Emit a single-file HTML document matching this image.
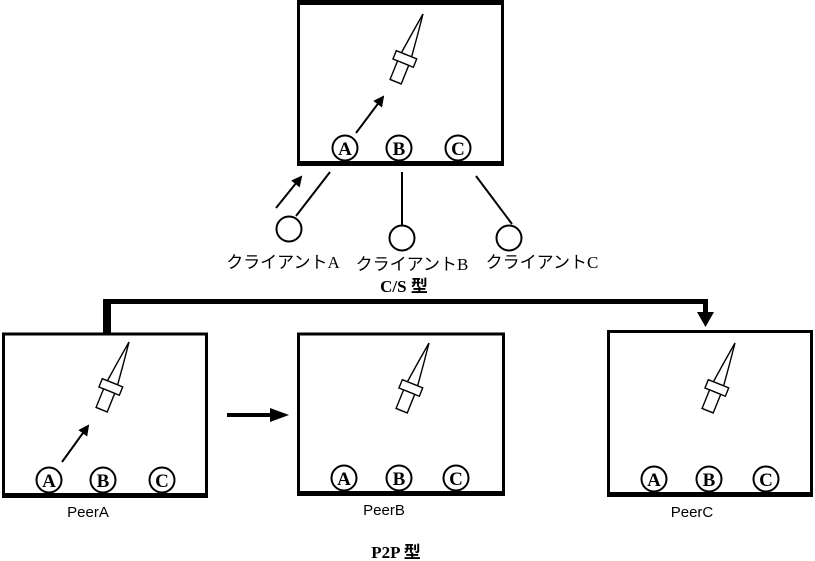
<!DOCTYPE html>
<html><head><meta charset="utf-8"><style>
html,body{margin:0;padding:0;background:#fff;}
svg{display:block;}
text{font-family:"Liberation Serif","Noto Serif CJK SC",serif;fill:#000;}
.jp{font-family:"Liberation Serif","Noto Sans CJK JP",serif;font-size:17px;}
.pe{font-family:"Liberation Sans",sans-serif;font-size:15px;}
</style></head><body>
<svg width="815" height="561" viewBox="0 0 815 561" xmlns="http://www.w3.org/2000/svg">
<defs>
<g id="knife" fill="#fff" stroke="#000" stroke-width="1.4">
<path d="M0 0 Q-3 22 -5.5 44 L5.5 44 Q3 22 0 0 Z"/>
<rect x="-11" y="44" width="22" height="9"/>
<rect x="-6" y="53" width="12" height="20"/>
</g>
<marker id="ah" markerWidth="11" markerHeight="11" refX="9" refY="5.5" orient="auto" markerUnits="userSpaceOnUse">
<path d="M0 0 L11 5.5 L0 11 Z" fill="#000"/></marker>
</defs>

<rect x="298.5" y="2" width="204" height="162" fill="#fff" stroke="#000" stroke-width="3"/>
<rect x="297" y="0" width="207" height="5"/>
<rect x="297" y="161" width="207" height="5"/>
<use href="#knife" transform="translate(423,14) rotate(22)"/>
<line x1="356" y1="133" x2="383" y2="97" stroke="#000" stroke-width="2" marker-end="url(#ah)"/>
<g stroke="#000" stroke-width="2" fill="#fff">
<circle cx="345" cy="148" r="12.5"/><circle cx="399" cy="148" r="12.5"/><circle cx="458" cy="148" r="12.5"/>
</g>
<g text-anchor="middle" font-size="19" font-weight="bold">
<text x="345" y="155">A</text><text x="399" y="155">B</text><text x="458" y="155">C</text>
</g>

<g stroke="#000" stroke-width="2" fill="#fff">
<line x1="330" y1="172" x2="296" y2="216"/>
<line x1="402" y1="172" x2="402" y2="226"/>
<line x1="476" y1="176" x2="512" y2="224"/>
<circle cx="289" cy="229" r="12.5"/>
<circle cx="402" cy="238" r="12.5"/>
<circle cx="509" cy="238" r="12.5"/>
</g>
<line x1="276" y1="208" x2="301" y2="177" stroke="#000" stroke-width="2" marker-end="url(#ah)"/>
<text class="jp" x="283" y="268" text-anchor="middle">クライアントA</text>
<text class="jp" x="412" y="270" text-anchor="middle">クライアントB</text>
<text class="jp" x="542" y="268" text-anchor="middle">クライアントC</text>
<text class="jp" x="404" y="292" text-anchor="middle" font-weight="bold" font-size="18">C/S 型</text>

<rect x="103" y="299" width="8" height="36"/>
<rect x="103" y="299" width="605" height="5"/>
<rect x="703" y="299" width="5" height="14"/>
<path d="M697 312 L714 312 L705.5 327 Z"/>

<g fill="#fff" stroke="#000" stroke-width="3">
<rect x="3.5" y="334" width="203" height="161"/>
<rect x="298.5" y="334" width="205" height="159"/>
<rect x="608.5" y="331.5" width="203" height="163"/>
</g>
<rect x="2" y="493" width="206" height="5"/>
<rect x="297" y="491" width="208" height="5"/>
<rect x="607" y="492" width="206" height="5"/>

<use href="#knife" transform="translate(129,342) rotate(22)"/>
<use href="#knife" transform="translate(429,343) rotate(22)"/>
<use href="#knife" transform="translate(735,343) rotate(22)"/>
<line x1="62" y1="462" x2="88" y2="426" stroke="#000" stroke-width="2" marker-end="url(#ah)"/>
<line x1="227" y1="415" x2="280" y2="415" stroke="#000" stroke-width="4"/>
<path d="M270 408 L289 415 L270 422 Z"/>

<g stroke="#000" stroke-width="2" fill="#fff">
<circle cx="49" cy="480" r="12.5"/><circle cx="103" cy="480" r="12.5"/><circle cx="162" cy="480" r="12.5"/>
<circle cx="344" cy="478" r="12.5"/><circle cx="399" cy="478" r="12.5"/><circle cx="456" cy="478" r="12.5"/>
<circle cx="654" cy="479" r="12.5"/><circle cx="709" cy="479" r="12.5"/><circle cx="766" cy="479" r="12.5"/>
</g>
<g text-anchor="middle" font-size="19" font-weight="bold">
<text x="49" y="487">A</text><text x="103" y="487">B</text><text x="162" y="487">C</text>
<text x="344" y="485">A</text><text x="399" y="485">B</text><text x="456" y="485">C</text>
<text x="654" y="486">A</text><text x="709" y="486">B</text><text x="766" y="486">C</text>
</g>

<text class="pe" x="88" y="517" text-anchor="middle">PeerA</text>
<text class="pe" x="384" y="515" text-anchor="middle">PeerB</text>
<text class="pe" x="692" y="517" text-anchor="middle">PeerC</text>
<text class="jp" x="396" y="558" text-anchor="middle" font-weight="bold" font-size="18">P2P 型</text>
</svg>
</body></html>
